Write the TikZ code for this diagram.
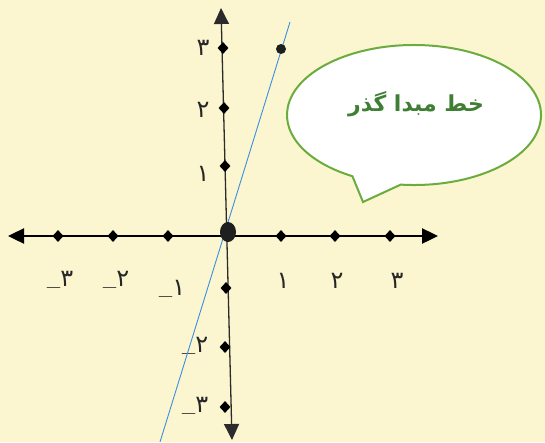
\documentclass[tikz,border=0pt]{standalone}
\usepackage{fontspec}
\newfontfamily\arabicfont[Script=Arabic]{DejaVu Sans}
\TeXXeTstate=1
\usetikzlibrary{arrows.meta,shapes.geometric,calc}
\definecolor{bg}{HTML}{FBF6CF}
\definecolor{bubblegreen}{HTML}{6AAC3E}
\definecolor{titlegreen}{HTML}{3E7F33}
\definecolor{linecol}{HTML}{3A8FE0}
\definecolor{axisgray}{HTML}{2B2B2B}
\newcommand{\negsign}{{\rmfamily\bfseries\raisebox{-0.32em}{–}}}
\begin{document}
\begin{tikzpicture}[x=1pt,y=-1pt,
  xaxis/.style={line width=2.4pt,black,{Triangle[length=16pt,width=15pt]}-{Triangle[length=16pt,width=15pt]}},
  yaxis/.style={line width=1.3pt,axisgray,{Triangle[length=16pt,width=15pt]}-{Triangle[length=16pt,width=15pt]}},
  tickmark/.style={diamond,fill=black,inner sep=0pt,minimum width=11pt,minimum height=12pt},
  numlabel/.style={font=\arabicfont\fontsize{24}{26}\selectfont,text=black!85,inner sep=0pt},
  bubblestyle/.style={draw=bubblegreen,line width=2pt,fill=white,line join=miter},
  titlestyle/.style={font=\arabicfont\bfseries\fontsize{22}{26}\selectfont,text=titlegreen,inner sep=0pt},
  slopeline/.style={linecol,line width=0.9pt}]
\fill[bg] (0,0) rectangle (545,442);
\useasboundingbox (0,0) rectangle (545,442);

% axes
\coordinate (xl) at (8,236);
\coordinate (xr) at (438,236);
\coordinate (yt) at (221,8);
\coordinate (yb) at (232,440);
\draw[yaxis] (yb) -- (yt);
\draw[xaxis] (xl) -- (xr);

% ticks on x axis
\node[tickmark] (xm3) at (58,236) {};
\node[tickmark] (xm2) at (113,236) {};
\node[tickmark] (xm1) at (168,236) {};
\node[tickmark] (xp1) at (281,236) {};
\node[tickmark] (xp2) at (335,236) {};
\node[tickmark] (xp3) at (390,236) {};
% ticks on y axis
\node[tickmark] (yp3) at (223,48) {};
\node[tickmark] (yp2) at (224,108) {};
\node[tickmark] (yp1) at (225,166) {};
\node[tickmark] (ym1) at (226,288) {};
\node[tickmark] (ym2) at (225,347) {};
\node[tickmark] (ym3) at (225,407) {};

% labels
\node[numlabel] (lxm3) at (60,283) {\negsign{}۳};
\node[numlabel] (lxm2) at (116,283) {\negsign{}۲};
\node[numlabel] (lxm1) at (172,292) {\negsign{}۱};
\node[numlabel] (lxp1) at (283,281) {۱};
\node[numlabel] (lxp2) at (337,281) {۲};
\node[numlabel] (lxp3) at (397,281) {۳};
\node[numlabel] (lyp3) at (203,48) {۳};
\node[numlabel] (lyp2) at (203,110) {۲};
\node[numlabel] (lyp1) at (203,174) {۱};
\node[numlabel] (lym2) at (195,349) {\negsign{}۲};
\node[numlabel] (lym3) at (195,409) {\negsign{}۳};

% line through origin
\coordinate (la) at (160,442);
\coordinate (lb) at (290,22);
\draw[slopeline] (la) -- (lb);

% origin and point
\fill[black!88] (228,232) ellipse [x radius=8pt, y radius=10pt];
\node[circle,fill=black!88,inner sep=0pt,minimum size=10pt] (pt) at (281,49) {};

% speech bubble
\coordinate (bc) at (414,115);
\coordinate (tip) at (363,202);
\draw[bubblestyle] ($(bc)+(96:127 and 70)$) arc[start angle=96, end angle=-241, x radius=127, y radius=70] -- (tip) -- cycle;
\node[titlestyle] (title) at (416,104) {\beginR خط مبدا گذر\endR};
\end{tikzpicture}
\end{document}
